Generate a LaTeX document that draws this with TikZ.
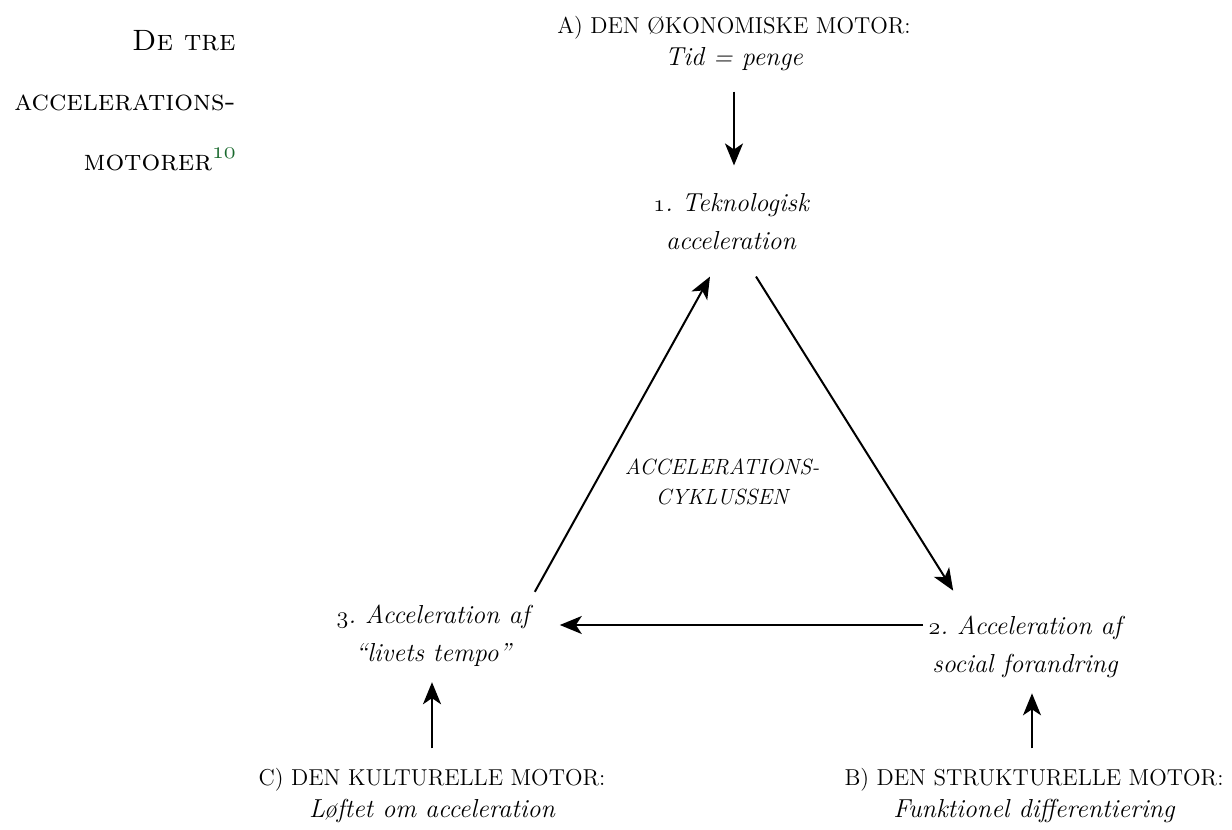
\documentclass[tikz,border=0pt]{standalone}
\usepackage{fontspec}
\usetikzlibrary{arrows.meta,calc}
\definecolor{fngreen}{RGB}{25,105,45}
\newcommand\osf[1]{{\fontencoding{OML}\fontfamily{cmm}\fontseries{m}\fontshape{it}\selectfont #1}}
\frenchspacing
\tikzset{
  lab/.style={font=\fontsize{13}{19}\selectfont\itshape, align=center, inner sep=0pt},
  mot/.style={font=\fontsize{13}{16}\selectfont, align=center, inner sep=0pt},
  ttl/.style={font=\fontsize{14.7}{15}\selectfont\scshape, anchor=base east, inner sep=0pt},
  cyc/.style={font=\fontsize{11}{15}\selectfont\itshape, align=center, inner sep=0pt},
  arr/.style={line width=1pt, -{Stealth[length=11pt,width=9pt,inset=3pt]}}
}
\newcommand\mcap[1]{{\fontsize{11.5}{15}\selectfont\upshape #1}}
\begin{document}
\begin{tikzpicture}[x=0.5pt,y=-0.5pt]
\useasboundingbox (0,0) rectangle (1232,830);
% title
\node[ttl] (t1) at (236,50) {De tre};
\node[ttl] (t2) at (236,110) {accelerations-};
\node[ttl] (t3) at (236,170) {motorer\raisebox{6pt}{\fontsize{13}{13}\selectfont\color{fngreen}\osf{10}}};
% motors
\node[mot] (A) at (734,44) {\mcap{A) DEN ØKONOMISKE MOTOR:}\\ \itshape Tid = penge};
\node[mot] (C) at (432,796) {\mcap{C) DEN KULTURELLE MOTOR:}\\ \itshape Løftet om acceleration};
\node[mot] (B) at (1034,796) {\mcap{B) DEN STRUKTURELLE MOTOR:}\\ \itshape Funktionel differentiering};
% cycle
\node[lab] (n1) at (731,222) {\osf{1}. Teknologisk\\acceleration};
\node[lab] (n2) at (1025,647) {\osf{2}. Acceleration af\\social forandring};
\node[lab] (n3) at (433,636) {\osf{3}. Acceleration af\\“livets tempo”};
\node[cyc] (cy) at (722,482) {ACCELERATIONS-\\CYKLUSSEN};
% arrows
\coordinate (a0) at ($(A.south)+(0,20)$);
\coordinate (a1) at (a0 |- n1.north);
\draw[arr] (a0) -- ($(a1)+(0,-28)$);
\draw[arr] ($(n3.north east)+(5,-13)$) -- ($(n1.south)+(-21,26)$);
\draw[arr] ($(n1.south)+(25,26)$) -- ($(n2.north west)+(25,-25)$);
\coordinate (b0) at ($(n2.west)+(-5,-22)$);
\draw[arr] (b0) -- ($(n3.east |- b0)+(30,0)$);
\draw[arr] ($(C.north)+(0,-20)$) -- ($(C.north |- n3.south)+(0,15)$);
\draw[arr] ($(B.north)+(-2,-20)$) -- ($(B.north |- n2.south)+(-2,15)$);
\end{tikzpicture}
\end{document}
